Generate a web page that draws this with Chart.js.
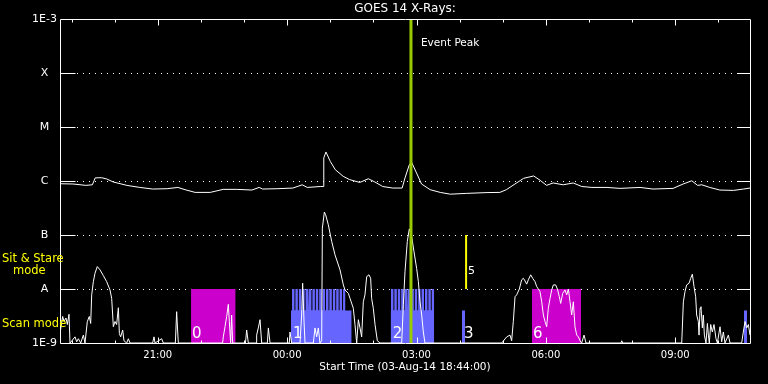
<!DOCTYPE html>
<html><head><meta charset="utf-8">
<script src="https://cdn.jsdelivr.net/npm/chart.js@4/dist/chart.umd.min.js"></script>
<style>html,body{margin:0;padding:0;background:#000;}canvas{display:block;}</style>
</head><body>
<canvas id="c" width="768" height="384"></canvas>
<script>
// ---------- data (x = minutes after 03-Aug-14 18:44:00) ----------
const chartTitle = 'GOES 14 X-Rays:';
const xAxisTitle = 'Start Time (03-Aug-14 18:44:00)';
const xMin = 0, xMax = 960;
const hourTicks = [16,76,136,196,256,316,376,436,496,556,616,676,736,796,856,916];
const xTickValues = [136,316,496,676,856];
const xTickLabels = ['21:00','00:00','03:00','06:00','09:00'];
const yTickValues = [1e-9,1e-8,1e-7,1e-6,1e-5,1e-4,1e-3];
const yTickLabels = ['1E-9','A','B','C','M','X','1E-3'];
const gridValues = [1e-8,1e-7,1e-6,1e-5,1e-4];

// long channel (1-8 A)
const longTimes = [0,18,36,45,49,54,58,65,74,93,
  111,129,149,164,174,188,209,227,246,267,
  277,282,302,324,337,344,362,366,367,370,
  376,383,394,403,417,429,438,449,463,476,
  480,486,489,496,503,515,529,543,566,594,
  612,621,633,645,659,668,677,686,700,714,
  726,740,761,779,807,825,853,867,879,887,
  893,904,918,937,951,960];
const longFlux = [8.9e-7,8.8e-7,8.3e-7,8.5e-7,1.14e-6,1.15e-6,1.15e-6,1.09e-6,9.6e-7,8.3e-7,
  7.6e-7,7.1e-7,7.2e-7,7.6e-7,6.9e-7,6.15e-7,6.15e-7,7.0e-7,7.0e-7,6.8e-7,
  7.6e-7,7.1e-7,7.2e-7,7.4e-7,8.5e-7,7.6e-7,7.9e-7,7.9e-7,2.67e-6,3.45e-6,
  2.31e-6,1.62e-6,1.22e-6,1.06e-6,9.4e-7,1.10e-6,9.6e-7,7.9e-7,7.4e-7,7.4e-7,
  1.14e-6,2.0e-6,2.25e-6,1.41e-6,8.8e-7,6.9e-7,6.15e-7,5.7e-7,5.9e-7,6.1e-7,
  6.15e-7,6.9e-7,8.8e-7,1.12e-6,1.24e-6,1.03e-6,8.3e-7,9.2e-7,8.5e-7,9.2e-7,
  7.9e-7,7.6e-7,7.6e-7,7.3e-7,7.6e-7,7.1e-7,7.3e-7,8.8e-7,1.01e-6,8.3e-7,
  8.5e-7,7.6e-7,6.8e-7,6.7e-7,7.1e-7,7.4e-7];

// short channel (0.5-4 A)
const shortTimes = [0,3.7,5.6,8.3,10.2,12.5,13.9,20.9,23.2,25.5,
  28.8,32.5,34.8,38,40.8,42.7,44.1,46.4,48.7,51.9,
  55.7,60.3,64.9,69.6,71.9,73.3,74.2,76.5,78.8,81.2,
  82.6,84.4,87.2,89,92.8,95.1,97.4,128.9,130.8,132.2,
  141.4,143.8,160.5,162.3,164.6,226.3,227.2,229.6,231.9,234.2,
  235.6,237.4,238.8,240.2,258,259.7,262,272.7,273.6,275.9,
  278.3,280.6,288.5,289.9,292.2,319,320,322.3,333.9,336.2,
  337.6,339.5,340.9,352.5,354.8,357.1,359.4,361.7,364.1,365,
  367.8,369.6,373.3,378,382.6,389.6,394.2,396.5,401.2,403.5,
  408.1,410.4,412.8,415.1,417.4,419.7,422,424.3,426.7,429.9,
  432.2,433.6,435.9,438.3,441.5,445.2,475.4,477.7,480,483.2,
  486,489.3,492.5,496.2,498.6,500.9,503.2,505.5,507.8,614.5,
  621.5,626.1,628.4,630.7,633.1,635.4,639.1,642.3,644.7,647,
  649.3,651.6,654.9,657.6,660.9,663.2,665.5,667.8,670.2,672.5,
  674.8,677.1,679.4,681.8,684.1,686.4,689.6,692,694.7,696.6,
  699.4,702.6,705,707.3,709.6,711.9,714.2,716.5,718.9,721.2,
  723.5,725.8,729.1,731.8,780.5,781.5,782.9,865,867.3,869.6,
  871.9,875.2,877.5,879.8,882.1,884.4,885.8,888.1,889.1,890.5,
  891.8,893.7,895.1,896.5,898.8,900.7,902.1,903.4,905.3,907.6,
  909.9,912.7,914.6,918.3,920.6,922.9,925.2,929.9,932.2,948.4,
  950.7,953.1,955.4,957.7,960];
const shortFlux = [1.5e-9,3.1e-9,2.5e-9,2.9e-9,2.2e-9,3.4e-9,1e-9,1.3e-9,1.05e-9,1.2e-9,
  1e-9,1.4e-9,1e-9,2.5e-9,3.1e-9,2.3e-9,7.8e-9,1.37e-8,1.96e-8,2.6e-8,
  2.26e-8,1.77e-8,1.37e-8,9.6e-9,6.7e-9,3.3e-9,2.0e-9,2.5e-9,2.2e-9,4.5e-9,
  1.5e-9,1.3e-9,1.74e-9,1.1e-9,1e-9,1.2e-9,1e-9,1e-9,1.3e-9,1e-9,
  1.2e-9,1e-9,1e-9,3.8e-9,1e-9,1e-9,1.3e-9,2.0e-9,3.1e-9,5.2e-9,
  2.5e-9,1e-9,3.3e-9,1e-9,1e-9,1.74e-9,1e-9,1e-9,1.4e-9,1.9e-9,
  2.7e-9,1e-9,1e-9,1.9e-9,1e-9,1e-9,1.6e-9,1e-9,1e-9,3.3e-9,
  1.28e-8,2.5e-9,1e-9,1e-9,1.9e-9,1.3e-9,1.9e-9,1e-9,1.1e-9,1.34e-7,
  2.66e-7,2.37e-7,1.55e-7,7.6e-8,4.3e-8,2.26e-8,1.19e-8,9.6e-9,8.3e-9,6.7e-9,
  4.4e-9,2.2e-9,1e-9,2.7e-9,1.9e-9,1.3e-9,5.8e-9,7.8e-9,1.7e-8,1.83e-8,
  1.58e-8,6.7e-9,4.4e-9,2.2e-9,1.1e-9,1e-9,1e-9,5.1e-9,2.1e-8,7.6e-8,
  1.3e-7,9.4e-8,4.9e-8,2.4e-8,1.37e-8,5.8e-9,3.3e-9,1.6e-9,1e-9,1e-9,
  1.3e-9,1.4e-9,1.1e-9,2.5e-9,7.2e-9,7.8e-9,1.0e-8,1.48e-8,1.58e-8,1.41e-8,
  1.23e-8,1.48e-8,1.83e-8,1.58e-8,1.37e-8,1.11e-8,1.0e-8,9.0e-9,5.8e-9,3.3e-9,
  2.5e-9,2.0e-9,4.4e-9,6.7e-9,9.6e-9,1.19e-8,1.19e-8,1.0e-8,7.2e-9,5.4e-9,
  8.3e-9,9.6e-9,7.8e-9,1.0e-8,5.8e-9,3.3e-9,5.8e-9,2.0e-9,1.4e-9,1.3e-9,
  1.1e-9,1e-9,1.4e-9,1e-9,1e-9,1.1e-9,1e-9,1e-9,5.8e-9,9.0e-9,
  1.19e-8,1.28e-8,1.58e-8,1.88e-8,1.11e-8,7.2e-9,3.3e-9,2.5e-9,1.4e-9,4.4e-9,
  4.7e-9,1.9e-9,3.3e-9,1.4e-9,1e-9,2.3e-9,1.4e-9,1e-9,2.2e-9,1.6e-9,
  2.2e-9,1.2e-9,1e-9,2.0e-9,1.05e-9,1.6e-9,1e-9,1.4e-9,1e-9,1e-9,
  1.6e-9,2.5e-9,1.9e-9,2.2e-9,1.4e-9];

// observing-mode blocks
const sitStareLevel = 1e-8;     // top of "Sit & Stare" band
const scanLevel = 4e-9;         // top of scan base
const sitStareStarts = [182.3, 656.7];
const sitStareEnds   = [244.4, 724.9];
const sitStareLabels = ['0','6'];
const scanStarts = [321.4, 460.0, 559.3, 951.6];
const scanEnds   = [405.8, 520.0, 563.5, 955.8];
const scanLabels = ['1','2','3',''];
const toothWidth = 3.4;
const scan1Teeth = [322.8,327.5,332.3,337,341.7,346.4,351.2,355.9,360.6,365.4,370.1,374.8,379.6,384.3,389,393.8];
const scan2Teeth = [460.5,465.2,470,474.7,479.4,484.1,488.9,493.6,498.3,503,507.8,512.5,517.2];
const eventPeakTime = 488.3;
const markerTime = 565;
const markerRange = [1e-8, 1e-7];
const markerLabel = '5';

// ---------- build datasets ----------
const pts = (xs, ys) => xs.map((t, i) => ({x: t, y: ys[i]}));
const datasets = [];
datasets.push({data: [{x:eventPeakTime,y:1e-9},{x:eventPeakTime,y:1e-3}], borderColor:'#99cc00', borderWidth:3, order:0});
datasets.push({data: [{x:markerTime,y:markerRange[0]},{x:markerTime,y:markerRange[1]}], borderColor:'#ffff00', borderWidth:2, order:0});
datasets.push({data: pts(longTimes, longFlux), borderColor:'#ffffff', borderWidth:1, order:1});
datasets.push({data: pts(shortTimes, shortFlux), borderColor:'#ffffff', borderWidth:1, order:1});
sitStareStarts.forEach((s, i) => datasets.push({
  data: [{x:s,y:sitStareLevel},{x:sitStareEnds[i],y:sitStareLevel}],
  borderWidth:0, backgroundColor:'#cc00cc', fill:'start', order:5}));
scanStarts.forEach((s, i) => datasets.push({
  data: [{x:s,y:scanLevel},{x:scanEnds[i],y:scanLevel}],
  borderWidth:0, backgroundColor:'#6666ff', fill:'start', order:5}));
[scan1Teeth, scan2Teeth].forEach(teeth => {
  const d = [];
  teeth.forEach(s => { d.push({x:s,y:scanLevel},{x:s,y:sitStareLevel},{x:s+toothWidth,y:sitStareLevel},{x:s+toothWidth,y:scanLevel}); });
  datasets.push({data:d, borderWidth:0, backgroundColor:'#6666ff', fill:'start', order:5});
});

// ---------- decorations drawn through the scales ----------
const FONT = '"DejaVu Sans", sans-serif';
const decor = {
  id: 'decor',
  beforeDatasetsDraw(chart) {
    const {ctx, chartArea: a, scales: {y}} = chart;
    ctx.save();
    ctx.strokeStyle = '#ffffff'; ctx.lineWidth = 1;
    ctx.setLineDash([1, 5]);
    gridValues.forEach(v => {
      const py = Math.round(y.getPixelForValue(v)) + 0.5;
      ctx.beginPath(); ctx.moveTo(a.left + 17, py); ctx.lineTo(a.right, py); ctx.stroke();
    });
    ctx.restore();
  },
  afterDatasetsDraw(chart) {
    const {ctx, chartArea: a, scales: {x, y}} = chart;
    ctx.save();
    ctx.strokeStyle = '#ffffff'; ctx.lineWidth = 1;
    const L = Math.round(a.left) + 0.5, R = Math.round(a.right) + 0.5;
    const T = Math.round(a.top) + 0.5, B = Math.round(a.bottom) + 0.5;
    ctx.beginPath(); ctx.rect(L, T, R - L, B - T); ctx.stroke();
    // inner y ticks
    gridValues.forEach(v => {
      const py = Math.round(y.getPixelForValue(v)) + 0.5;
      ctx.beginPath(); ctx.moveTo(L, py); ctx.lineTo(L + 15, py);
      ctx.moveTo(R - 13, py); ctx.lineTo(R, py); ctx.stroke();
    });
    // inner x ticks
    hourTicks.forEach(t => {
      const px = Math.round(x.getPixelForValue(t)) + 0.5;
      const len = xTickValues.includes(t) ? 6 : 3;
      ctx.beginPath(); ctx.moveTo(px, T); ctx.lineTo(px, T + len);
      ctx.moveTo(px, B); ctx.lineTo(px, B - len); ctx.stroke();
    });
    // texts
    ctx.fillStyle = '#ffffff';
    ctx.textBaseline = 'middle';
    ctx.font = '12px ' + FONT; ctx.textAlign = 'center';
    ctx.fillText(chartTitle, (a.left + a.right) / 2, 9);
    ctx.font = '10.5px ' + FONT; ctx.textAlign = 'left';
    ctx.fillText('Event Peak', x.getPixelForValue(eventPeakTime) + 10, 43);
    ctx.font = '15px ' + FONT;
    sitStareStarts.forEach((s, i) => ctx.fillText(sitStareLabels[i], x.getPixelForValue(s) + 1, a.bottom - 9));
    scanStarts.forEach((s, i) => ctx.fillText(scanLabels[i], x.getPixelForValue(s) + 2, a.bottom - 9));
    ctx.font = '11px ' + FONT;
    ctx.fillText(markerLabel, x.getPixelForValue(markerTime) + 2, y.getPixelForValue(Math.sqrt(markerRange[0]*markerRange[1])) + 9);
    ctx.fillStyle = '#ffff00';
    ctx.font = '11.5px ' + FONT;
    ctx.fillText('Sit & Stare', 2, 259);
    ctx.fillText('mode', 13, 271);
    ctx.fillText('Scan mode', 2, 324);
    ctx.restore();
  }
};

Chart.defaults.color = '#ffffff';
Chart.defaults.font.family = FONT;
new Chart(document.getElementById('c'), {
  type: 'line',
  data: {datasets},
  options: {
    responsive: false, animation: false, devicePixelRatio: 1,
    layout: {padding: {top: 19, right: 18, left: 0, bottom: 0}},
    elements: {point: {radius: 0}, line: {tension: 0}},
    plugins: {legend: {display: false}, tooltip: {enabled: false}, title: {display: false}},
    scales: {
      x: {
        type: 'linear', min: xMin, max: xMax,
        afterBuildTicks: s => { s.ticks = xTickValues.map(v => ({value: v})); },
        afterFit: s => { s.height = 41; },
        ticks: {callback: (v, i) => xTickLabels[i], color: '#ffffff', font: {size: 10}, padding: 6, maxRotation: 0, autoSkip: false},
        grid: {display: false, drawTicks: false},
        border: {display: false},
        title: {display: true, text: xAxisTitle, color: '#ffffff', font: {size: 10.5}, padding: {top: 0, bottom: 10}}
      },
      y: {
        type: 'logarithmic', min: 1e-9, max: 1e-3,
        afterBuildTicks: s => { s.ticks = yTickValues.map(v => ({value: v})); },
        afterFit: s => { s.width = 60; },
        ticks: {callback: (v, i) => yTickLabels[i], color: '#ffffff', font: {size: 11}, padding: 3, crossAlign: 'center', autoSkip: false},
        grid: {display: false, drawTicks: false},
        border: {display: false}
      }
    }
  },
  plugins: [decor]
});
</script>
</body></html>
